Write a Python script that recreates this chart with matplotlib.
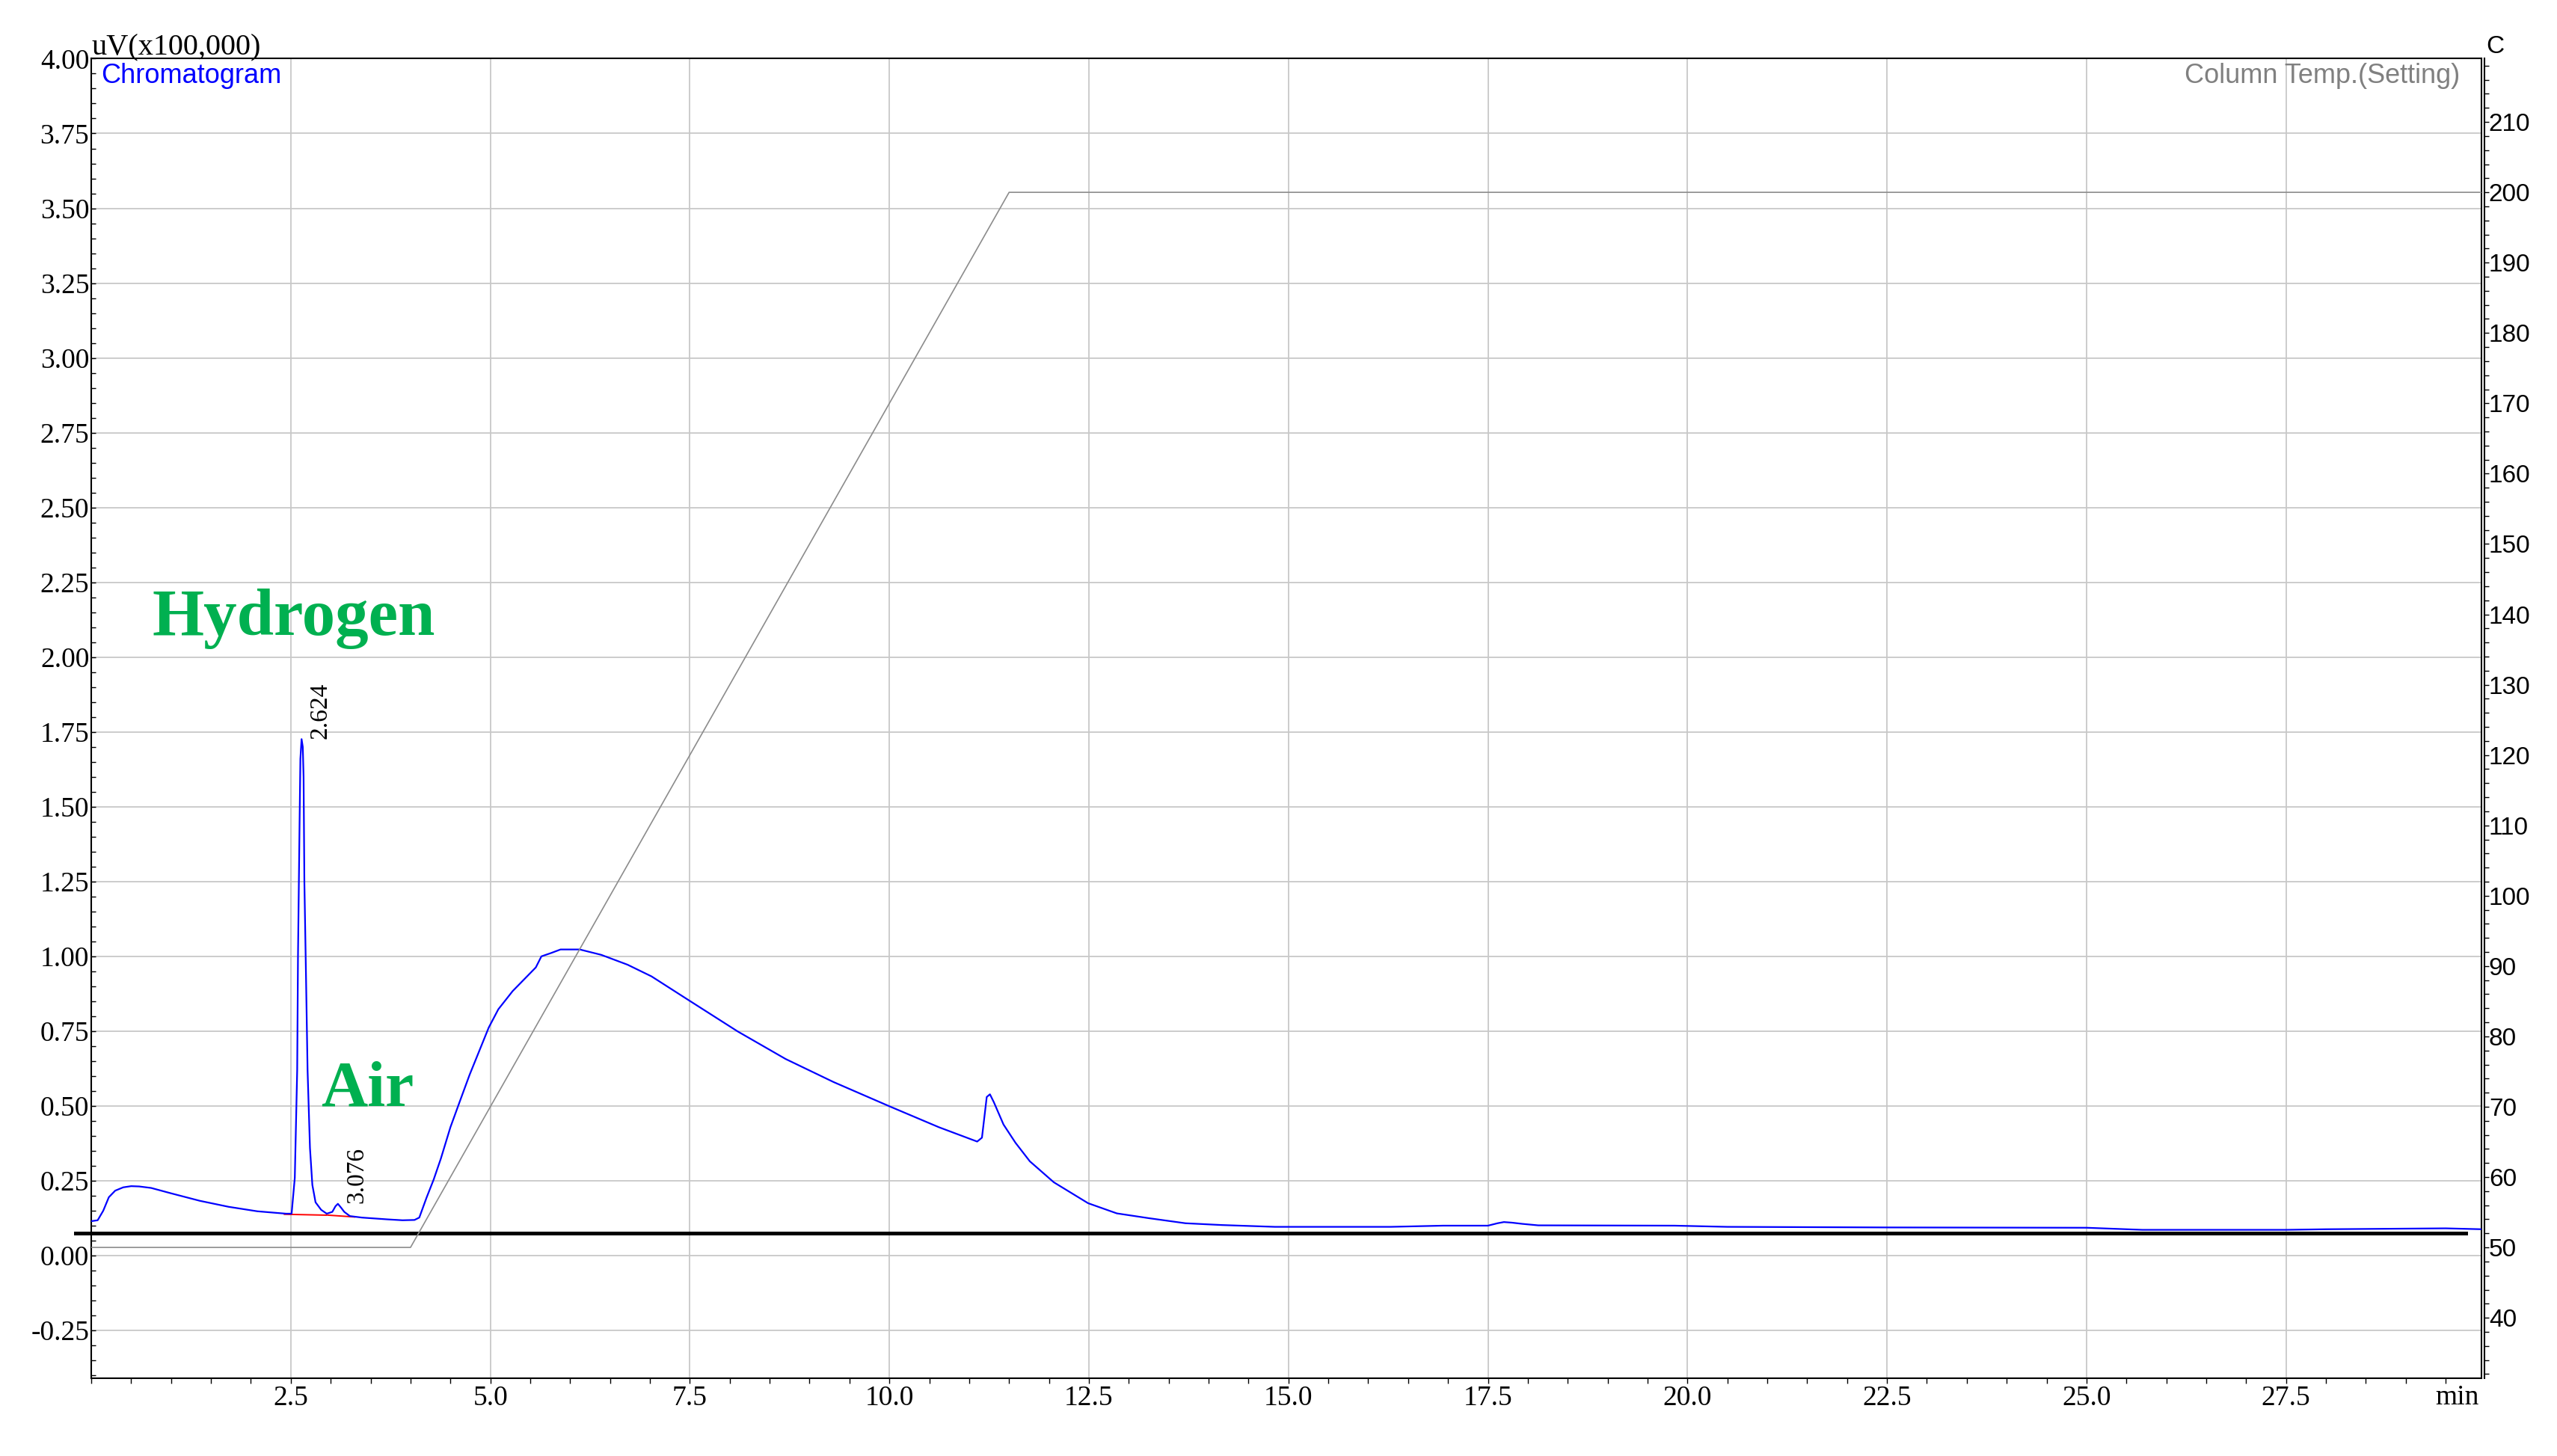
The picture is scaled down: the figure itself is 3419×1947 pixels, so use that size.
import numpy as np
import matplotlib.pyplot as plt
from matplotlib.ticker import MultipleLocator

# chromatogram trace (min, uV x100,000)
time_min = [0.00, 0.08, 0.15, 0.22, 0.30, 0.40, 0.50, 0.60, 0.75, 1.00, 1.36, 1.72,
            2.08, 2.44, 2.51, 2.55, 2.58, 2.59, 2.61, 2.62, 2.635, 2.65, 2.66, 2.67,
            2.69, 2.71, 2.74, 2.77, 2.81, 2.88, 2.95, 3.02, 3.06, 3.09, 3.13, 3.17,
            3.24, 3.39, 3.71, 3.90, 4.05, 4.11, 4.20, 4.29, 4.38, 4.50, 4.62, 4.74,
            4.86, 4.98, 5.10, 5.28, 5.46, 5.57, 5.64, 5.76, 5.88, 6.12, 6.39, 6.72,
            7.02, 7.50, 8.10, 8.70, 9.30, 10.00, 10.62, 11.10, 11.16, 11.22, 11.26,
            11.31, 11.43, 11.58, 11.76, 12.06, 12.49, 12.85, 13.25, 13.71, 14.17,
            14.83, 16.28, 16.94, 17.50, 17.62, 17.70, 17.80, 17.93, 18.13, 19.84,
            20.50, 22.50, 25.00, 25.50, 25.70, 27.50, 28.00, 29.50, 29.95]
signal = [0.115, 0.118, 0.150, 0.195, 0.217, 0.228, 0.232, 0.231, 0.226, 0.208, 0.183, 0.163,
          0.148, 0.140, 0.140, 0.26, 0.62, 1.00, 1.45, 1.66, 1.726, 1.70, 1.60, 1.25,
          0.94, 0.62, 0.36, 0.236, 0.178, 0.153, 0.140, 0.146, 0.165, 0.173, 0.160, 0.146,
          0.132, 0.127, 0.121, 0.118, 0.119, 0.127, 0.193, 0.254, 0.324, 0.429, 0.517, 0.604,
          0.683, 0.762, 0.823, 0.884, 0.933, 0.963, 1.000, 1.011, 1.023, 1.023, 1.005, 0.972,
          0.933, 0.851, 0.749, 0.657, 0.580, 0.499, 0.429, 0.381, 0.394, 0.530, 0.539,
          0.512, 0.438, 0.377, 0.315, 0.245, 0.175, 0.141, 0.125, 0.108, 0.102,
          0.096, 0.096, 0.100, 0.100, 0.108, 0.112, 0.110, 0.106, 0.101, 0.100,
          0.096, 0.094, 0.093, 0.088, 0.086, 0.086, 0.088, 0.091, 0.088]

# column temperature program (C)
temp_time = [0.0, 4.0, 11.5, 29.95]
temp_c = [50, 50, 200, 200]

# integration baselines (red)
base1_time = [2.42, 2.95]
base1_val = [0.138, 0.135]
base2_time = [2.97, 3.30]
base2_val = [0.135, 0.129]

# peak labels
peak_rt = ["2.624", "3.076"]
peak_x = [2.635, 3.09]
peak_top = [1.726, 0.175]

# hand-drawn black reference line
ref_x = [-0.2, 29.75]
ref_y = [0.075, 0.075]

x_ticks = [2.5, 5.0, 7.5, 10.0, 12.5, 15.0, 17.5, 20.0, 22.5, 25.0, 27.5]
y_ticks = [-0.25, 0.00, 0.25, 0.50, 0.75, 1.00, 1.25, 1.50, 1.75, 2.00, 2.25, 2.50,
           2.75, 3.00, 3.25, 3.50, 3.75, 4.00]
temp_ticks = [40, 50, 60, 70, 80, 90, 100, 110, 120, 130, 140, 150, 160, 170, 180,
              190, 200, 210]

serif = "Liberation Serif"
sans = "Liberation Sans"

fig = plt.figure(figsize=(34.19, 19.47), dpi=100)
ax = fig.add_axes([0.0357, 0.0534, 0.9348, 0.9063])
ax2 = ax.twinx()

ax.set_xlim(0, 29.95)
ax.set_ylim(-0.41, 4.0)
ax2.set_ylim(31.4, 219)

# ticks + grid
ax.set_yticks(y_ticks)
ax.set_yticklabels([f"{v:.2f}" for v in y_ticks])
ax.yaxis.set_minor_locator(MultipleLocator(0.05))
ax.set_xticks(x_ticks)
ax.set_xticklabels([f"{v:.1f}" for v in x_ticks])
ax.xaxis.set_minor_locator(MultipleLocator(0.5))
ax.grid(True, which="major", color="#c8c8c8", lw=1.3)
ax.set_axisbelow(True)

ax.tick_params(axis="y", which="both", direction="in", length=4, width=1, pad=2,
               labelsize=27, labelfontfamily=serif)
ax.tick_params(axis="x", which="both", direction="out", length=5, width=1, pad=2,
               labelsize=27, labelfontfamily=serif)

ax2.set_yticks(temp_ticks)
ax2.set_yticklabels([str(v) for v in temp_ticks])
ax2.yaxis.set_minor_locator(MultipleLocator(2))
ax2.tick_params(axis="y", which="both", direction="out", length=4, width=1, pad=0,
                labelsize=24, labelfontfamily=sans)
ax2.spines["right"].set_position(("outward", 3))
for s in ["left", "top", "bottom"]:
    ax2.spines[s].set_visible(False)
for s in ax.spines.values():
    s.set_linewidth(1.5)
ax2.spines["right"].set_linewidth(1.5)

# data
ax2.plot(temp_time, temp_c, color="#8c8c8c", lw=1.2)
ax.plot(time_min, signal, color="#0000ff", lw=1.6, zorder=3)
ax.plot(base1_time, base1_val, color="#ff0000", lw=1.4, zorder=2)
ax.plot(base2_time, base2_val, color="#ff0000", lw=1.4, zorder=2)
ax.plot(ref_x, ref_y, color="black", lw=3.6, clip_on=False, zorder=4)

for lab, px, py in zip(peak_rt, peak_x, peak_top):
    ax.text(px + 0.09, py, lab, rotation=90, ha="left", va="bottom",
            family=serif, fontsize=24)

# annotations
ax.text(0.76, 2.075, "Hydrogen", color="#00b050", family=serif, fontweight="bold",
        fontsize=64, ha="left", va="baseline")
ax.text(2.88, 0.50, "Air", color="#00b050", family=serif, fontweight="bold",
        fontsize=62, ha="left", va="baseline")

ax.text(0.0, 1.003, "uV(x100,000)", transform=ax.transAxes, family=serif,
        fontsize=29, ha="left", va="baseline")
ax.text(0.004, 0.997, "Chromatogram", transform=ax.transAxes, family=sans,
        fontsize=26, color="#0000ff", ha="left", va="top")
ax.text(0.991, 0.997, "Column Temp.(Setting)", transform=ax.transAxes, family=sans,
        fontsize=26, color="#808080", ha="right", va="top")
ax.text(1.002, 1.004, "C", transform=ax.transAxes, family=sans,
        fontsize=24, ha="left", va="baseline")
ax.text(0.999, -0.005, "min", transform=ax.transAxes, family=serif,
        fontsize=27, ha="right", va="top")

fig.savefig("out.png", dpi=100)
